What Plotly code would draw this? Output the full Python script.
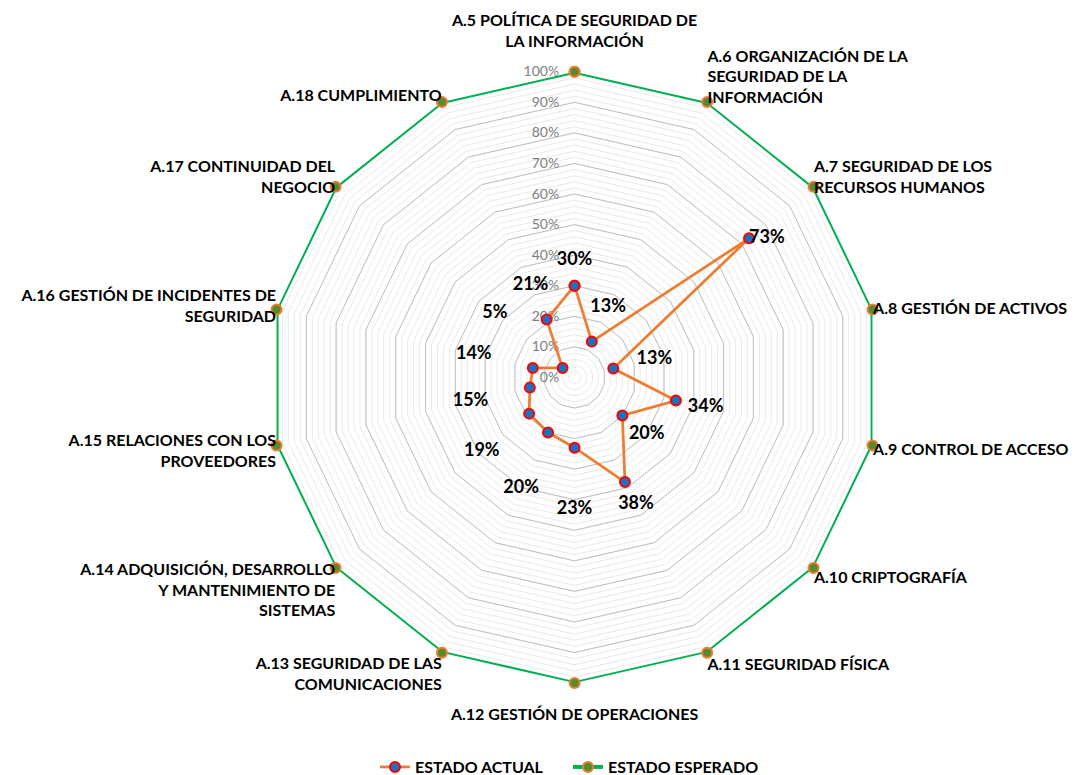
import plotly.graph_objects as go

categories = [
    "A.5 POLÍTICA DE SEGURIDAD DE<br>LA INFORMACIÓN<br> ",
    "A.6 ORGANIZACIÓN DE LA<br>SEGURIDAD DE LA<br>INFORMACIÓN",
    "A.7 SEGURIDAD DE LOS<br>RECURSOS HUMANOS",
    "A.8 GESTIÓN DE ACTIVOS",
    "A.9 CONTROL DE ACCESO",
    "A.10 CRIPTOGRAFÍA",
    "A.11 SEGURIDAD FÍSICA",
    " <br>A.12 GESTIÓN DE OPERACIONES",
    "A.13 SEGURIDAD DE LAS<br>COMUNICACIONES",
    "A.14 ADQUISICIÓN, DESARROLLO<br>Y MANTENIMIENTO DE<br>SISTEMAS",
    "A.15 RELACIONES CON LOS<br>PROVEEDORES",
    "A.16 GESTIÓN DE INCIDENTES DE<br>SEGURIDAD",
    "A.17 CONTINUIDAD DEL<br>NEGOCIO",
    "A.18 CUMPLIMIENTO",
]
estado_actual = [0.30, 0.13, 0.73, 0.13, 0.34, 0.20, 0.38, 0.23, 0.20, 0.19, 0.15, 0.14, 0.05, 0.21]
estado_esperado = [1.0, 1.0, 1.0, 1.0, 1.0, 1.0, 1.0, 1.0, 1.0, 1.0, 1.0, 1.0, 1.0, 1.0]
major_ticks = [0.0, 0.1, 0.2, 0.3, 0.4, 0.5, 0.6, 0.7, 0.8, 0.9, 1.0]
minor_ticks = [i / 50 for i in range(51)]
series_names = ["ESTADO ACTUAL", "ESTADO ESPERADO"]

# label placement (layout only)
label_offset = [0.083, 0.123, 0.0, 0.138, 0.10, 0.102, 0.083, 0.201, 0.203, 0.198, 0.199, 0.198, 0.283, 0.122]
label_pos = ["middle center"] * 14
label_pos[2] = "middle right"

FONT = "Lato"
closed = lambda a: list(a) + [a[0]]

fig = go.Figure()

fig.add_trace(go.Scatterpolar(
    r=closed(estado_actual), theta=closed(categories), subplot="polar2",
    name=series_names[0], mode="lines+markers",
    line=dict(color="#ED7D31", width=2.75),
    marker=dict(size=10, color="#1F6FBF", line=dict(color="#FF0000", width=2)),
    cliponaxis=False, hoverinfo="r+theta",
))
fig.add_trace(go.Scatterpolar(
    r=[v + o for v, o in zip(estado_actual, label_offset)], theta=categories, subplot="polar2",
    mode="text", text=[f"{round(v * 100)}%" for v in estado_actual],
    textposition=label_pos,
    textfont=dict(family=FONT, size=18, color="black", weight="bold"),
    showlegend=False, hoverinfo="skip", cliponaxis=False,
))
fig.add_trace(go.Scatterpolar(
    r=closed(estado_esperado), theta=closed(categories), subplot="polar",
    name=series_names[1], mode="lines+markers",
    line=dict(color="#00B050", width=4),
    marker=dict(size=10, color="#5A8A2E", line=dict(color="#ED7D31", width=2)),
    cliponaxis=False, hoverinfo="r+theta",
))

dom = dict(x=[0.2487, 0.8143], y=[0.1353, 0.9092])
fig.update_layout(
    width=1081, height=790,
    margin=dict(l=0, r=0, t=0, b=0),
    paper_bgcolor="white",
    font=dict(family=FONT, color="black"),
    polar=dict(
        domain=dom, gridshape="linear", bgcolor="white",
        radialaxis=dict(range=[0, 1], tickmode="array", tickvals=minor_ticks,
                        showticklabels=False, ticks="", showline=False,
                        gridcolor="#EAEAEA", gridwidth=1, angle=90),
        angularaxis=dict(rotation=90, direction="clockwise", type="category",
                         categoryorder="array", categoryarray=categories,
                         showticklabels=False, ticks="", showgrid=False, showline=False),
    ),
    polar2=dict(
        domain=dom, gridshape="linear", bgcolor="rgba(0,0,0,0)",
        radialaxis=dict(range=[0, 1], tickmode="array", tickvals=major_ticks,
                        tickformat=".0%", ticks="outside", ticklen=10,
                        tickcolor="rgba(0,0,0,0)", showline=False,
                        gridcolor="#C0C0C0", gridwidth=1, angle=90, tickangle=90,
                        side="counterclockwise", layer="below traces",
                        tickfont=dict(family=FONT, size=14, color="#7F7F7F")),
        angularaxis=dict(rotation=90, direction="clockwise", type="category",
                         categoryorder="array", categoryarray=categories,
                         ticks="", showgrid=False, showline=False,
                         tickfont=dict(family=FONT, size=16, color="black", weight="bold")),
    ),
    legend=dict(orientation="h", x=0.5254, xanchor="center", y=0.0291, yanchor="middle",
                entrywidth=148,
                font=dict(family=FONT, size=16, color="black", weight="bold"),
                traceorder="normal"),
)

fig.write_html(
    "out.html",
    config={"displayModeBar": False},
    post_script="document.body.style.margin='0px';document.body.style.overflow='hidden';",
)
